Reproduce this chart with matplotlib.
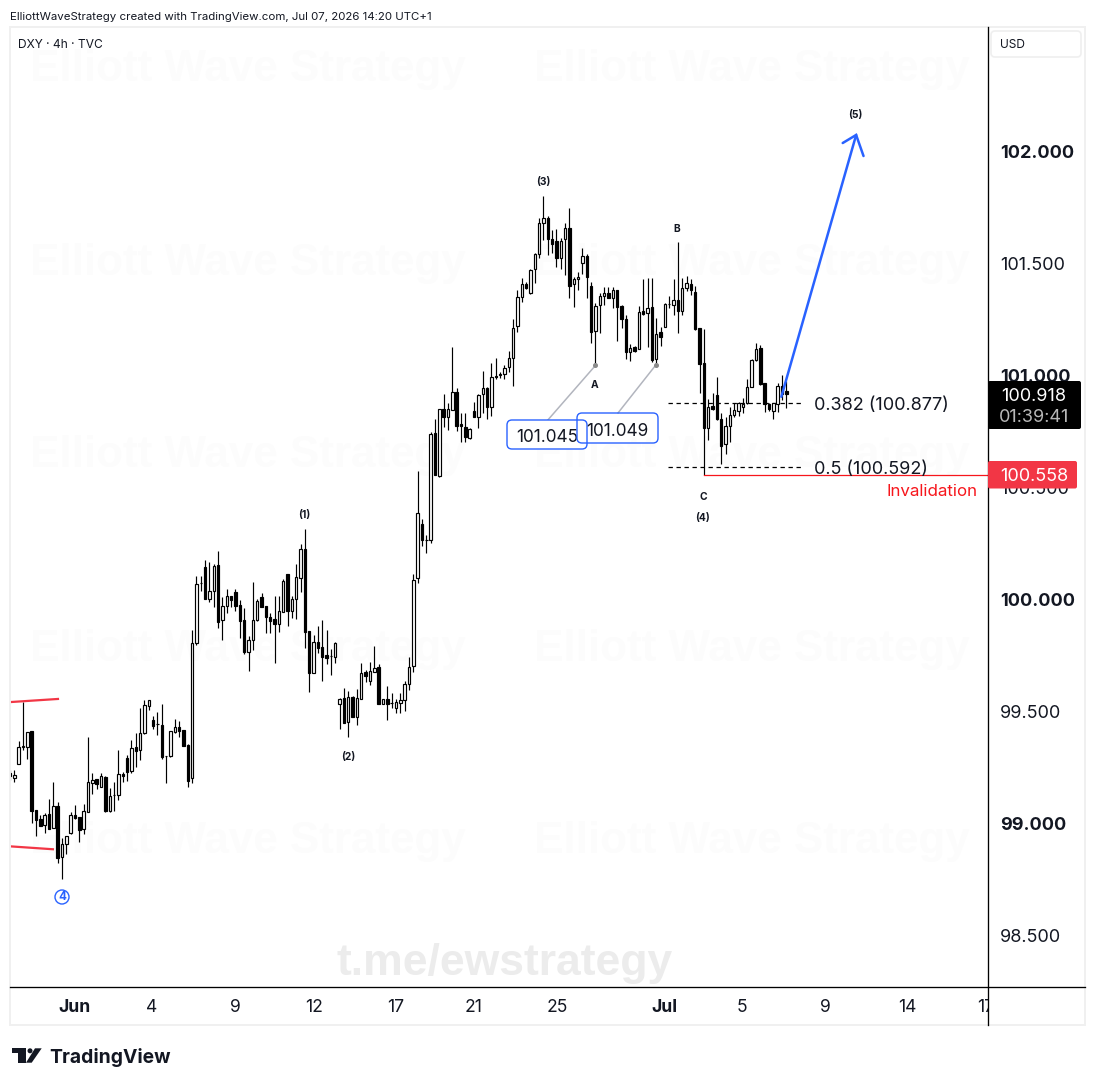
import numpy as np
import matplotlib
matplotlib.use('Agg')
import matplotlib.pyplot as plt
from matplotlib.patches import FancyBboxPatch, Rectangle, Polygon, Circle

# DXY 4h candles
opens = [99.224, 99.201, 99.264, 99.343, 99.343, 99.413, 99.060, 99.018, 98.993, 99.042,
         98.981, 99.078, 98.852, 98.907, 98.959, 99.036, 99.029, 98.977, 99.053, 99.179,
         99.198, 99.164, 99.207, 99.057, 99.125, 99.125, 99.221, 99.291, 99.236, 99.341,
         99.326, 99.405, 99.526, 99.462, 99.442, 99.439, 99.300, 99.300, 99.410, 99.429,
         99.417, 99.350, 99.201, 99.804, 100.072, 100.143, 100.001, 100.036, 100.152, 99.907,
         99.969, 100.014, 100.032, 99.974, 99.907, 99.767, 99.818, 99.907, 100.009, 99.971,
         99.920, 99.911, 99.892, 99.943, 100.112, 99.947, 100.004, 100.097, 100.224, 99.858,
         99.670, 99.809, 99.788, 99.752, 99.746, 99.745, 99.535, 99.559, 99.454, 99.565,
         99.477, 99.557, 99.676, 99.637, 99.675, 99.697, 99.532, 99.554, 99.536, 99.517,
         99.539, 99.550, 99.621, 99.703, 100.095, 100.336, 100.264, 100.264, 100.742, 100.553,
         100.849, 100.814, 100.845, 100.925, 100.782, 100.772, 100.723, 100.840, 100.816, 100.916,
         100.944, 100.861, 101.000, 101.003, 101.005, 101.037, 101.077, 101.220, 101.349, 101.409,
         101.370, 101.474, 101.541, 101.683, 101.705, 101.608, 101.601, 101.526, 101.608, 101.657,
         101.407, 101.430, 101.501, 101.532, 101.401, 101.200, 101.314, 101.356, 101.367, 101.347,
         101.384, 101.310, 101.252, 101.106, 101.129, 101.120, 101.288, 101.277, 101.304, 101.072,
         101.194, 101.218, 101.319, 101.315, 101.337, 101.289, 101.392, 101.408, 101.374, 101.210,
         101.054, 100.764, 100.864, 100.913, 100.804, 100.693, 100.776, 100.822, 100.843, 100.858,
         100.876, 100.950, 101.069, 101.121, 100.965, 100.873, 100.841, 100.871, 100.953, 100.929]
highs = [99.241, 99.239, 99.368, 99.544, 99.407, 99.413, 99.060, 99.038, 99.045, 99.109,
         99.184, 99.094, 98.933, 98.944, 99.053, 99.082, 99.029, 99.087, 99.386, 99.224,
         99.198, 99.224, 99.210, 99.157, 99.184, 99.326, 99.230, 99.306, 99.371, 99.404,
         99.514, 99.551, 99.551, 99.480, 99.497, 99.532, 99.300, 99.411, 99.465, 99.457,
         99.417, 99.355, 99.864, 100.105, 100.105, 100.176, 100.166, 100.158, 100.216, 100.012,
         100.045, 100.014, 100.045, 99.998, 99.960, 99.837, 100.076, 100.004, 100.030, 99.971,
         99.938, 100.015, 100.015, 100.090, 100.112, 100.015, 100.158, 100.248, 100.315, 99.858,
         99.840, 99.882, 99.907, 99.864, 99.777, 99.812, 99.559, 99.605, 99.590, 99.569,
         99.599, 99.715, 99.685, 99.719, 99.792, 99.710, 99.554, 99.614, 99.581, 99.554,
         99.581, 99.636, 99.742, 100.114, 100.574, 100.358, 100.290, 100.747, 100.806, 100.849,
         100.916, 100.876, 101.126, 100.943, 100.831, 100.831, 100.764, 100.883, 100.916, 101.020,
         100.950, 101.058, 101.080, 101.014, 101.047, 101.108, 101.251, 101.382, 101.434, 101.416,
         101.477, 101.549, 101.702, 101.802, 101.714, 101.650, 101.653, 101.613, 101.683, 101.747,
         101.441, 101.464, 101.568, 101.543, 101.419, 101.322, 101.367, 101.396, 101.393, 101.396,
         101.384, 101.315, 101.270, 101.140, 101.132, 101.310, 101.429, 101.434, 101.434, 101.255,
         101.218, 101.322, 101.355, 101.429, 101.594, 101.434, 101.444, 101.429, 101.401, 101.210,
         101.206, 100.895, 100.920, 100.992, 100.834, 100.816, 100.861, 100.879, 100.883, 100.898,
         100.983, 101.075, 101.146, 101.136, 100.968, 100.879, 100.876, 100.965, 101.002, 100.975]
lows = [99.194, 99.186, 99.264, 99.328, 99.288, 99.000, 98.945, 98.990, 98.956, 98.977,
        98.981, 98.825, 98.752, 98.864, 98.953, 99.018, 98.919, 98.953, 99.053, 99.131,
        99.154, 99.164, 99.050, 99.050, 99.057, 99.105, 99.186, 99.191, 99.224, 99.253,
        99.283, 99.399, 99.506, 99.422, 99.395, 99.286, 99.182, 99.298, 99.405, 99.387,
        99.347, 99.164, 99.182, 99.797, 100.039, 100.001, 99.990, 99.968, 99.874, 99.819,
        99.941, 99.968, 99.950, 99.829, 99.755, 99.681, 99.774, 99.905, 99.968, 99.852,
        99.852, 99.718, 99.853, 99.943, 99.883, 99.919, 99.914, 100.035, 99.785, 99.588,
        99.670, 99.759, 99.636, 99.712, 99.664, 99.715, 99.423, 99.450, 99.387, 99.477,
        99.440, 99.557, 99.633, 99.618, 99.675, 99.532, 99.532, 99.462, 99.514, 99.495,
        99.495, 99.504, 99.596, 99.678, 100.075, 100.241, 100.209, 100.251, 100.556, 100.548,
        100.772, 100.757, 100.845, 100.754, 100.702, 100.702, 100.717, 100.814, 100.764, 100.831,
        100.808, 100.821, 100.985, 100.991, 100.983, 101.017, 100.955, 101.196, 101.330, 101.385,
        101.363, 101.415, 101.523, 101.605, 101.538, 101.549, 101.486, 101.474, 101.449, 101.345,
        101.308, 101.382, 101.453, 101.345, 101.147, 101.045, 101.188, 101.315, 101.344, 101.303,
        101.155, 101.210, 101.072, 101.066, 101.106, 101.118, 101.270, 101.129, 101.062, 101.049,
        101.132, 101.218, 101.300, 101.270, 101.191, 101.270, 101.379, 101.359, 101.203, 100.923,
        100.558, 100.712, 100.846, 100.801, 100.605, 100.649, 100.704, 100.816, 100.821, 100.831,
        100.873, 100.950, 101.066, 100.957, 100.838, 100.841, 100.806, 100.838, 100.890, 100.856]
closes = [99.212, 99.216, 99.340, 99.343, 99.407, 99.057, 99.015, 98.990, 99.038, 98.977,
          99.078, 98.847, 98.907, 98.944, 99.036, 99.024, 98.971, 99.054, 99.184, 99.192,
          99.176, 99.210, 99.057, 99.121, 99.125, 99.219, 99.213, 99.231, 99.335, 99.325,
          99.402, 99.527, 99.551, 99.436, 99.442, 99.298, 99.300, 99.411, 99.429, 99.414,
          99.347, 99.191, 99.804, 100.067, 100.072, 100.001, 100.036, 100.149, 99.901, 99.969,
          100.014, 100.000, 99.971, 99.905, 99.767, 99.818, 99.907, 99.992, 99.968, 99.920,
          99.905, 99.892, 99.947, 100.082, 99.950, 100.002, 100.099, 100.224, 99.856, 99.673,
          99.809, 99.782, 99.745, 99.740, 99.746, 99.806, 99.556, 99.450, 99.563, 99.477,
          99.559, 99.670, 99.660, 99.679, 99.693, 99.532, 99.554, 99.535, 99.536, 99.542,
          99.550, 99.623, 99.697, 100.085, 100.385, 100.264, 100.264, 100.738, 100.556, 100.849,
          100.814, 100.849, 100.925, 100.776, 100.773, 100.727, 100.760, 100.816, 100.912, 100.943,
          100.861, 100.992, 100.995, 101.003, 101.032, 101.077, 101.211, 101.349, 101.407, 101.389,
          101.471, 101.543, 101.680, 101.702, 101.608, 101.586, 101.526, 101.602, 101.657, 101.401,
          101.430, 101.439, 101.532, 101.441, 101.196, 101.311, 101.357, 101.367, 101.347, 101.380,
          101.304, 101.254, 101.106, 101.121, 101.109, 101.282, 101.274, 101.300, 101.069, 101.184,
          101.170, 101.318, 101.319, 101.337, 101.289, 101.389, 101.411, 101.381, 101.206, 101.050,
          100.764, 100.858, 100.849, 100.804, 100.687, 100.774, 100.822, 100.846, 100.876, 100.873,
          100.947, 101.069, 101.117, 100.962, 100.871, 100.850, 100.876, 100.953, 100.916, 100.918]

price_ticks = [98.5, 99.0, 99.5, 100.0, 100.5, 101.0, 101.5, 102.0]
bold_prices = [99.0, 100.0, 101.0, 102.0]
time_ticks = [14.8, 32.75, 51.9, 70.1, 89.0, 107.0, 126.1, 150.8, 168.7, 188.0, 207.0, 225.0]
time_labels = ['Jun', '4', '9', '12', '17', '21', '25', 'Jul', '5', '9', '14', '17']
bold_times = ['Jun', 'Jul']

fib_levels = [100.877, 100.592]
fib_labels = ['0.382 (100.877)', '0.5 (100.592)']
invalidation = 100.558
last_price = 100.918

W, H = 1095, 1086
plt.rcParams['font.family'] = ['Inter', 'DejaVu Sans']
BLUE = '#2962ff'
RED = '#f23645'
INK = '#131722'


def px_axes(x0, y0, x1, y1):
    # axes placed by pixel box, y counted from the top
    return [x0 / W, 1 - y1 / H, (x1 - x0) / W, (y1 - y0) / H]


fig = plt.figure(figsize=(W / 100, H / 100), dpi=100, facecolor='white')

# chart pane, bar index on x and price on y
ax = fig.add_axes(px_axes(10, 27, 988, 987))
ax.set_xlim(0.009, 225.5)
ax.set_ylim(98.270, 102.556)
ax.set_xticks([])
ax.set_yticks([])
for s in ax.spines.values():
    s.set_visible(False)

# overlay in pixels for the chrome and text
ov = fig.add_axes([0, 0, 1, 1], zorder=5)
ov.set_xlim(0, W)
ov.set_ylim(H, 0)
ov.axis('off')
ov.patch.set_alpha(0)

# watermarks
for wy in [69, 263, 456, 649, 841]:
    for wx in [248, 752]:
        ax.text(wx, wy, 'Elliott Wave Strategy', transform=ov.transData, ha='center', va='center',
                fontsize=31.7, fontweight='bold', color='#fcfcfc', zorder=0,
                family=['Liberation Sans', 'DejaVu Sans'])
ax.text(505, 963, 't.me/ewstrategy', transform=ov.transData, ha='center', va='center',
        fontsize=32, fontweight='bold', color='#ececec', zorder=0,
        family=['Liberation Sans', 'DejaVu Sans'])

# candles
idx = np.arange(len(opens))
o = np.array(opens)
c = np.array(closes)
up = c >= o
ax.vlines(idx, lows, highs, color='black', lw=0.85, zorder=2)
tops = np.maximum(o, c)
bots = np.minimum(o, c)
hts = np.maximum(tops - bots, 0.002)
ax.bar(idx[up], hts[up], bottom=bots[up], width=0.56, facecolor='white', edgecolor='black', lw=0.85, zorder=3)
ax.bar(idx[~up], hts[~up], bottom=bots[~up], width=0.56, facecolor='black', edgecolor='black', lw=0.85, zorder=3)

# fib levels and invalidation
for lev in fib_levels:
    ax.plot([151.7, 182.8], [lev, lev], color='black', lw=0.9, dashes=(3.5, 2.9), zorder=1)
ax.plot([160, 225.5], [invalidation, invalidation], color='#f7161c', lw=0.9, zorder=4)

# wave target arrow
ax.plot([177.85, 195.1], [100.905, 102.074], color=BLUE, lw=1.8, solid_capstyle='round', zorder=5)
ax.plot([192.0, 195.1, 196.8], [102.038, 102.074, 101.98], color=BLUE, lw=1.8,
        solid_capstyle='round', solid_joinstyle='miter', zorder=5)

# callouts to the A and second lows
ax.plot([124.0, 135], [100.801, 101.045], color='#b2b5be', lw=1.1, zorder=4)
ax.plot([140.2, 149], [100.833, 101.049], color='#b2b5be', lw=1.1, zorder=4)
ax.plot([135, 149], [101.045, 101.049], ls='none', marker='o', ms=2.6, color='#8a8a8a', zorder=4)

# left red trendlines
ax.plot([0.009, 11.07], [99.542, 99.556], color=RED, lw=1.6, zorder=4)
ax.plot([0.009, 9.9], [98.898, 98.885], color=RED, lw=1.6, zorder=4)

# pane borders
ov.add_patch(Rectangle((10, 27), 1075, 998, fill=False, ec='#f0f0f0', lw=1.4))
ov.plot([988, 988], [27, 1025], color='black', lw=0.95)
ov.plot([10, 1085], [986.8, 986.8], color='black', lw=0.95)

# time axis, clipped by the price axis
tx = fig.add_axes(px_axes(10, 988, 988, 1025))
tx.set_xlim(ax.get_xlim())
tx.set_ylim(1, 0)
tx.axis('off')
for t, lab in zip(time_ticks, time_labels):
    tx.text(t, 0.53, lab, ha='center', va='center', fontsize=12.6, clip_on=True,
            fontweight='bold' if lab in bold_times else 'normal', color=INK)

# price axis
for p in price_ticks:
    y = 153.5 + (102 - p) * 224
    ov.text(1000, y, '%.3f' % p, ha='left', va='center', fontsize=13,
            fontweight='bold' if p in bold_prices else 'normal', color=INK, zorder=2)

# price tags
ov.add_patch(FancyBboxPatch((988, 381), 93, 48, boxstyle='round,pad=0,rounding_size=2', fc='black', ec='none', zorder=3))
ov.text(1034, 396.5, '%.3f' % last_price, ha='center', va='center', fontsize=13, color='white', zorder=4)
ov.text(1034, 417, '01:39:41', ha='center', va='center', fontsize=13, color='#b8b8b8', zorder=4)
ov.add_patch(FancyBboxPatch((988, 461), 89, 27.5, boxstyle='round,pad=0,rounding_size=2', fc=RED, ec='none', zorder=3))
ov.text(1034, 476.5, '%.3f' % invalidation, ha='center', va='center', fontsize=13, color='white', zorder=4)

# USD box
ov.add_patch(FancyBboxPatch((991, 31), 90, 26, boxstyle='round,pad=0,rounding_size=4', fc='white', ec='#efefef', lw=1.2))
ov.text(1000, 45, 'USD', ha='left', va='center', fontsize=8.6, color=INK)

# header
ov.text(10, 17.5, 'ElliottWaveStrategy created with TradingView.com, Jul 07, 2026 14:20 UTC+1',
        ha='left', va='center', fontsize=8.25, color=INK)
ov.text(18, 45, 'DXY · 4h · TVC', ha='left', va='center', fontsize=8.6, color=INK)

# wave labels
wave_labels = [('(1)', 304, 515), ('(2)', 348, 757), ('(3)', 543, 182), ('(4)', 703, 518),
               ('(5)', 855, 115), ('A', 595, 385), ('B', 677, 229), ('C', 703, 497)]
for lab, x, y in wave_labels:
    ov.text(x, y, lab, ha='center', va='center', fontsize=7.4, fontweight='bold', color=INK)
ov.add_patch(Circle((62, 897), 7, fill=False, ec=BLUE, lw=1))
ov.text(62, 897.3, '4', ha='center', va='center', fontsize=8.3, fontweight='bold', color=BLUE)

# fib and invalidation text
ov.text(814, 406, fib_labels[0], ha='left', va='center', fontsize=13, color=INK)
ov.text(814, 470, fib_labels[1], ha='left', va='center', fontsize=13, color=INK)
ov.text(978, 492, 'Invalidation', ha='right', va='center', fontsize=12.2, color='#f7161c')

# price callout boxes
ov.add_patch(FancyBboxPatch((507, 420), 80, 29, boxstyle='round,pad=0,rounding_size=5', fc='white', ec=BLUE, lw=1, zorder=3))
ov.text(547, 437.5, '101.045', ha='center', va='center', fontsize=12.4, color=INK, zorder=4)
ov.add_patch(FancyBboxPatch((577, 413), 81, 30, boxstyle='round,pad=0,rounding_size=5', fc='none', ec=BLUE, lw=1, zorder=5))
ov.text(617.5, 431.5, '101.049', ha='center', va='center', fontsize=12.4, color=INK, zorder=5)

# TradingView logo
logo = [[(12, 1048.3), (25.5, 1048.3), (25.5, 1062.7), (17.5, 1062.7), (17.5, 1053.3), (12, 1053.3)],
        [(35, 1048.3), (41.7, 1048.3), (31.7, 1062.7), (26, 1062.7)]]
for pts in logo:
    ov.add_patch(Polygon(pts, closed=True, fc=INK, ec='none'))
ov.add_patch(Circle((30, 1050.8), 2.5, fc=INK, ec='none'))
ov.text(49, 1057.5, 'TradingView', ha='left', va='center', fontsize=13.9, fontweight='bold', color=INK)

fig.savefig('out.png', dpi=100)
